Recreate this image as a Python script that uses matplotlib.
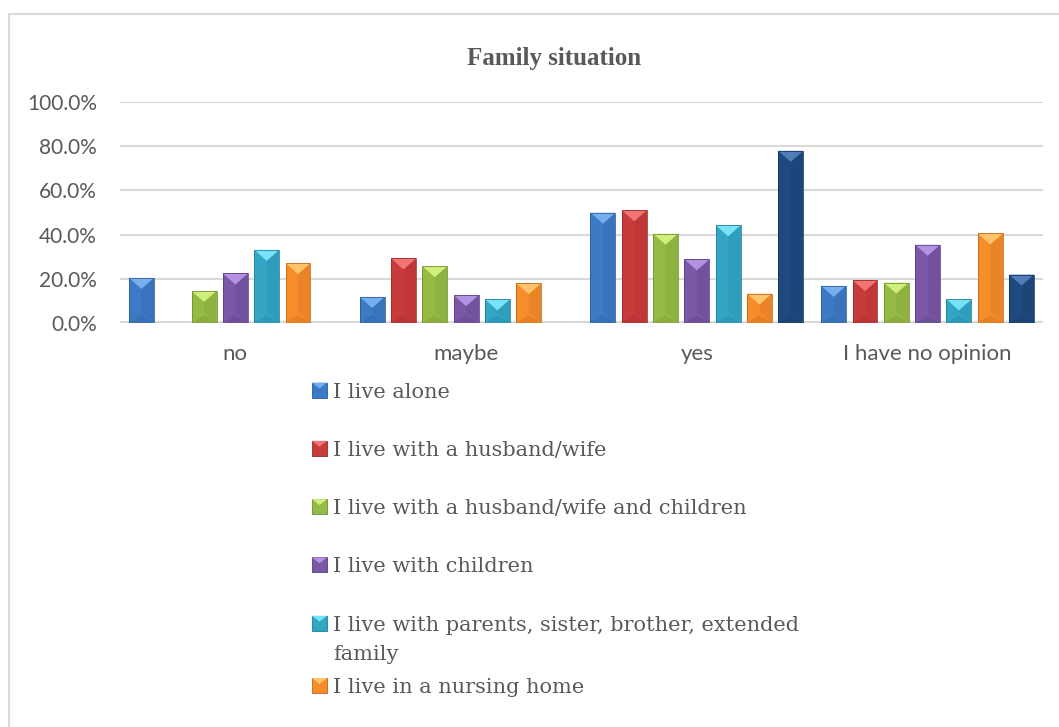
import matplotlib
matplotlib.use("Agg")
import matplotlib.pyplot as plt
from matplotlib.patches import Polygon, Rectangle
from matplotlib.ticker import FuncFormatter
import numpy as np

# ---- data -------------------------------------------------------------
categories = ["no", "maybe", "yes", "I have no opinion"]

live_alone = [20.4, 11.8, 49.9, 16.8]
with_spouse = [0.0, 29.2, 51.0, 19.4]
spouse_children = [14.5, 25.7, 40.4, 18.3]
with_children = [22.4, 12.6, 28.8, 35.4]
parents_family = [33.1, 10.7, 44.2, 10.7]
nursing_home = [27.1, 18.0, 13.3, 40.5]
other = [0.0, 0.0, 77.9, 21.9]

series_values = [live_alone, with_spouse, spouse_children, with_children,
                 parents_family, nursing_home, other]

legend_labels = [
    "I live alone",
    "I live with a husband/wife",
    "I live with a husband/wife and children",
    "I live with children",
    "I live with parents, sister, brother, extended\nfamily",
    "I live in a nursing home",
]

y_ticks = [0, 20, 40, 60, 80, 100]

# face / highlight / shade colours for each series
face_colors = ["#3C7AC5", "#C93B3B", "#96BB45", "#7A58A6", "#33A6C6", "#F68C2A", "#1F4A80"]
light_colors = ["#76AEEE", "#F27575", "#CFEE7A", "#B392E3", "#78E2F7", "#FFC46A", "#4F7DB9"]
dark_colors = ["#2A5A98", "#9A2A2A", "#6F8E2E", "#573D7D", "#227D97", "#C0661A", "#143459"]

# ---- figure -----------------------------------------------------------
W, H, DPI = 1059, 727, 100
fig = plt.figure(figsize=(W / DPI, H / DPI), dpi=DPI)
fig.patch.set_facecolor("white")

# chart frame
fig.patches.append(Rectangle((8.5 / W, -0.05), 1.2, 1 - 13.5 / H + 0.05,
                             transform=fig.transFigure, fill=False,
                             edgecolor="#D9D9D9", linewidth=1.5))

ax_left, ax_right, ax_top, ax_bottom = 120, 1043, 102, 323
ax = fig.add_axes([ax_left / W, 1 - ax_bottom / H,
                   (ax_right - ax_left) / W, (ax_bottom - ax_top) / H])

n_series = len(series_values)
step = 0.1357
width = 0.108
x = np.arange(len(categories))

ax.set_xlim(-0.5, len(categories) - 0.5)
ax.set_ylim(0, 100)

# pixel → data conversions for the bevel geometry
px_per_y = (ax_bottom - ax_top) / 100.0
bevel_px = 11

for i, vals in enumerate(series_values):
    offs = (i - (n_series - 1) / 2) * step
    bars = ax.bar(x + offs, vals, width=width, color=face_colors[i],
                  edgecolor="none", linewidth=0, zorder=3)
    for rect in bars:
        h = rect.get_height()
        if h <= 0:
            continue
        x0 = rect.get_x()
        x1 = x0 + rect.get_width()
        xc = (x0 + x1) / 2
        d = min(bevel_px / px_per_y, h / 2)
        db = min(8 / px_per_y, h / 3)
        # right face slightly darker
        ax.add_patch(Polygon([(xc, d), (x1, 0), (x1, h), (xc, h - d)],
                             closed=True, facecolor=dark_colors[i], alpha=0.2,
                             edgecolor="none", zorder=4))
        # bottom face
        ax.add_patch(Polygon([(x0, 0), (x1, 0), (xc, db)], closed=True,
                             facecolor=dark_colors[i], alpha=0.3,
                             edgecolor="none", zorder=4))
        # top face highlight
        ax.add_patch(Polygon([(x0, h), (x1, h), (xc, h - d)], closed=True,
                             facecolor=light_colors[i], edgecolor="none", zorder=5))
        # outline
        ax.add_patch(Rectangle((x0, 0), x1 - x0, h, fill=False,
                               edgecolor=dark_colors[i], linewidth=0.7,
                               alpha=0.8, zorder=6))

# axes styling
for s in ax.spines.values():
    s.set_visible(False)
ax.set_yticks(y_ticks)
ax.yaxis.set_major_formatter(FuncFormatter(lambda v, p: f"{v:.1f}%"))
ax.yaxis.grid(True, color="#D9D9D9", linewidth=1.5, zorder=0)
ax.axhline(0, color="#D9D9D9", linewidth=3, zorder=2)
ax.set_axisbelow(True)
ax.set_xticks(x)
ax.set_xticklabels(categories)
ax.tick_params(axis="both", length=0, colors="#595959", labelsize=15)
ax.tick_params(axis="x", pad=15, labelsize=16)
ax.tick_params(axis="y", pad=16.5)
for lab in ax.get_xticklabels() + ax.get_yticklabels():
    lab.set_fontfamily(["Lato", "DejaVu Sans"])

# title
fig.text(554 / W, 1 - 58 / H, "Family situation", ha="center", va="center",
         fontsize=18, fontweight="bold", color="#595959",
         family=["Liberation Serif", "DejaVu Serif"])

# legend drawn as a column of swatches and labels
leg_x = 312
sw = 15
row_top = 390
row_step = 58.3
line_px = 29
extra = 0
for i, label in enumerate(legend_labels):
    yc = row_top + i * row_step + extra
    x0f, x1f = leg_x / W, (leg_x + sw) / W
    y0f, y1f = 1 - (yc + sw / 2) / H, 1 - (yc - sw / 2) / H
    xcf = (x0f + x1f) / 2
    dd = 6 / H
    fig.patches.append(Rectangle((x0f, y0f), x1f - x0f, y1f - y0f,
                                 transform=fig.transFigure, facecolor=face_colors[i],
                                 edgecolor=dark_colors[i], linewidth=0.6))
    fig.patches.append(Polygon([(x0f, y1f), (x1f, y1f), (xcf, y1f - dd)],
                               closed=True, transform=fig.transFigure,
                               facecolor=light_colors[i], edgecolor="none"))
    for k, line in enumerate(label.split("\n")):
        fig.text((leg_x + sw + 6) / W, 1 - (yc + k * line_px) / H, line,
                 ha="left", va="center_baseline", fontsize=15,
                 color="#595959", family=["DejaVu Serif"])
    extra += 4 * (label.count("\n"))

fig.savefig("out.png", dpi=DPI)
